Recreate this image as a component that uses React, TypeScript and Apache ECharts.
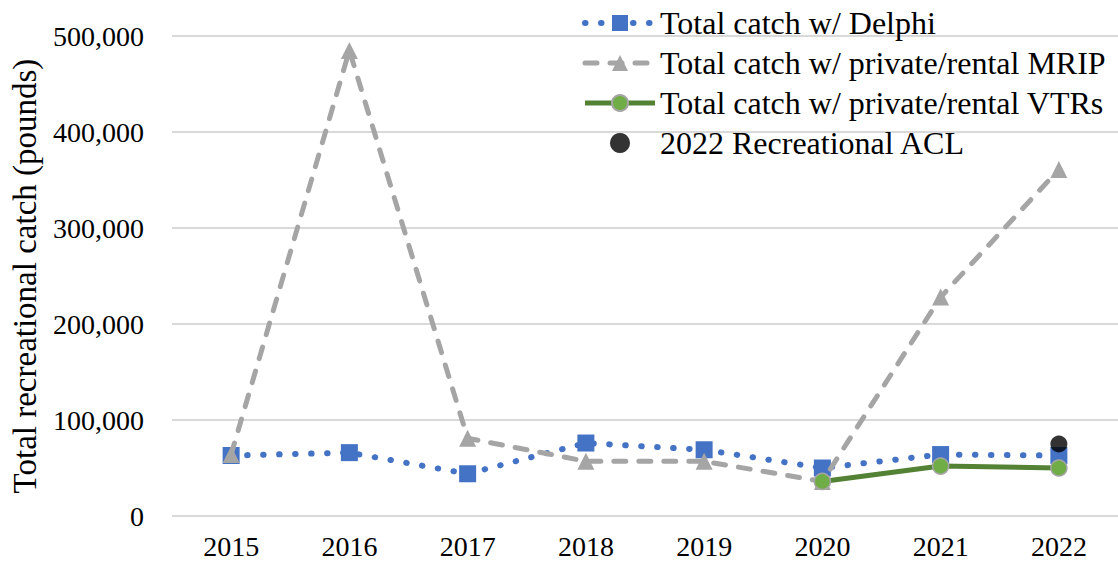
import React, { useEffect, useRef } from "react";
import * as echarts from "echarts";

const years = ["2015", "2016", "2017", "2018", "2019", "2020", "2021", "2022"];
const delphi = [63000, 66000, 44000, 76000, 69000, 50000, 64000, 63000];
const mrip = [64000, 485000, 81000, 57000, 57000, 36000, 228000, 361000];
const vtrs = [null, null, null, null, null, 36000, 52000, 50000];
const acl = [null, null, null, null, null, null, null, 75000];
const yTicks = [0, 100000, 200000, 300000, 400000, 500000];

const FONT = "'Liberation Serif', 'Times New Roman', serif";

export default function App() {
  const ref = useRef<HTMLDivElement>(null);
  useEffect(() => {
    const chart = echarts.init(ref.current!, null, { renderer: "svg" });
    chart.setOption({
      animation: false,
      textStyle: { fontFamily: FONT, color: "#000" },
      grid: { left: 168, right: -11, top: 36, bottom: 47 },
      legend: {
        orient: "vertical",
        left: 577,
        top: 2,
        itemWidth: 70,
        itemHeight: 20,
        itemGap: 8,
        textStyle: { fontSize: 32, fontFamily: FONT, color: "#000" },
        data: [
          { name: "Total catch w/ Delphi", lineStyle: { width: 6 } },
          { name: "Total catch w/ private/rental MRIP", lineStyle: { width: 5 } },
          { name: "Total catch w/ private/rental VTRs", lineStyle: { width: 5 } },
          { name: "2022 Recreational ACL" },
        ],
      },
      xAxis: {
        type: "category",
        data: years,
        boundaryGap: true,
        axisLine: { show: false },
        axisTick: { show: false },
        axisLabel: { fontSize: 28, fontFamily: FONT, color: "#000", margin: 16 },
      },
      yAxis: {
        type: "value",
        min: yTicks[0],
        max: yTicks[yTicks.length - 1],
        interval: 100000,
        name: "Total recreational catch (pounds)",
        nameLocation: "middle",
        nameGap: 131,
        nameTextStyle: { fontSize: 33, fontFamily: FONT, color: "#000" },
        axisLine: { show: false },
        axisTick: { show: false },
        splitLine: { lineStyle: { color: "#d9d9d9", width: 2 } },
        axisLabel: {
          fontSize: 28,
          fontFamily: FONT,
          color: "#000",
          margin: 28,
          formatter: (v: number) => v.toLocaleString("en-US"),
        },
      },
      series: [
        {
          name: "Total catch w/ Delphi",
          type: "line",
          data: delphi,
          symbol: "rect",
          symbolSize: 17,
          itemStyle: { color: "#4472C4" },
          lineStyle: { color: "#4472C4", width: 6, type: [0.5, 15.5], cap: "round" },
          z: 2,
        },
        {
          name: "Total catch w/ private/rental MRIP",
          type: "line",
          data: mrip,
          symbol: "triangle",
          symbolSize: 17,
          itemStyle: { color: "#A5A5A5" },
          lineStyle: { color: "#A5A5A5", width: 5, type: [12, 13], cap: "round" },
          z: 3,
        },
        {
          name: "Total catch w/ private/rental VTRs",
          type: "line",
          data: vtrs,
          symbol: "circle",
          symbolSize: 16,
          itemStyle: { color: "#70AD47", borderColor: "#A5A5A5", borderWidth: 1.5 },
          lineStyle: { color: "#548235", width: 5 },
          z: 4,
        },
        {
          name: "2022 Recreational ACL",
          type: "scatter",
          data: acl,
          symbol: "circle",
          symbolSize: 17,
          itemStyle: { color: "#000" },
          z: 5,
        },
      ],
    });
    return () => chart.dispose();
  }, []);
  return (
    <div
      ref={ref}
      style={{ position: "absolute", left: 0, top: 0, width: 1118, height: 563, background: "#fff" }}
    />
  );
}
